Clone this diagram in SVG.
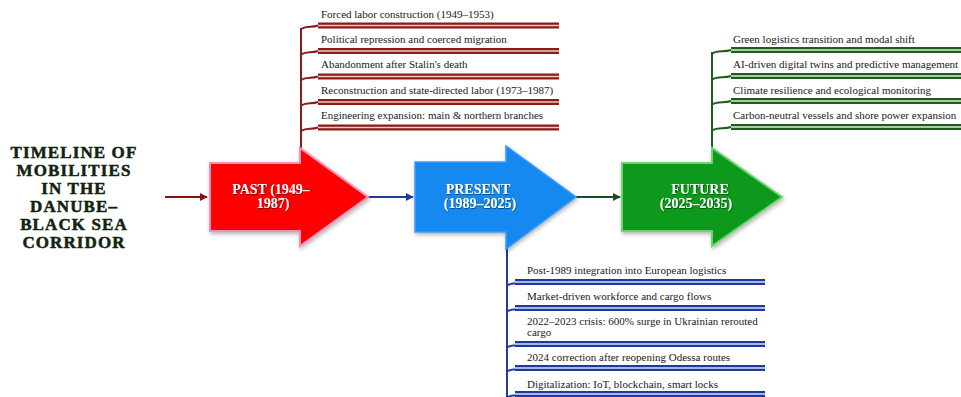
<svg xmlns="http://www.w3.org/2000/svg" width="961" height="397" viewBox="0 0 961 397">
<defs>
<style>
.title{font-family:"Liberation Serif",Tinos,"Times New Roman",Times,"DejaVu Serif",serif;font-weight:bold;font-size:17px;letter-spacing:1.1px;fill:#10240f;stroke:#10240f;stroke-width:0.5;text-anchor:middle}
.lbl{font-family:"Liberation Serif",Tinos,"Times New Roman",Times,"DejaVu Serif",serif;font-weight:bold;font-size:14px;fill:#ffffff;text-anchor:middle}
.it{font-family:"Liberation Serif",Tinos,"Times New Roman",Times,"DejaVu Serif",serif;font-size:11px;fill:#1a1a1a}
.pastc{stroke:#8b1a1a;fill:none;stroke-width:2}
.presc{stroke:#1f3a9a;fill:none;stroke-width:2}
.futc{stroke:#1d5c1d;fill:none;stroke-width:2}
.bandPo{stroke:#8b1a1a;stroke-width:6}
.bandPi{stroke:#f2c8b8;stroke-width:1.6}
.bandRo{stroke:#1f3a9a;stroke-width:6}
.bandRi{stroke:#d2e2ff;stroke-width:1.6}
.bandFo{stroke:#1d5c1d;stroke-width:6}
.bandFi{stroke:#d6f0d6;stroke-width:1.6}
</style>
<filter id="sh" x="-10%" y="-10%" width="120%" height="125%">
<feDropShadow dx="1" dy="2" stdDeviation="2" flood-color="#000" flood-opacity="0.3"/>
</filter>
<filter id="ts" x="-10%" y="-20%" width="120%" height="140%">
<feDropShadow dx="0.5" dy="0.8" stdDeviation="0.6" flood-color="#000" flood-opacity="0.6"/>
</filter>
<marker id="mRed" viewBox="0 0 10 10" refX="9" refY="5" markerWidth="4" markerHeight="4" orient="auto"><path d="M0,0 L10,5 L0,10 Z" fill="#8b1010"/></marker>
<marker id="mBlue" viewBox="0 0 10 10" refX="9" refY="5" markerWidth="4" markerHeight="4" orient="auto"><path d="M0,0 L10,5 L0,10 Z" fill="#1f3a9a"/></marker>
<marker id="mGreen" viewBox="0 0 10 10" refX="9" refY="5" markerWidth="4" markerHeight="4" orient="auto"><path d="M0,0 L10,5 L0,10 Z" fill="#1d4d1d"/></marker>
</defs>
<rect width="961" height="397" fill="#ffffff"/>

<g id="title">
<text class="title" x="74" y="158">TIMELINE OF</text>
<text class="title" x="74" y="176">MOBILITIES</text>
<text class="title" x="74" y="194">IN THE</text>
<text class="title" x="74" y="212">DANUBE–</text>
<text class="title" x="74" y="230">BLACK SEA</text>
<text class="title" x="74" y="248">CORRIDOR</text>
</g>

<g id="connectors">
<line x1="165" y1="197" x2="207" y2="197" stroke="#8b1010" stroke-width="2" marker-end="url(#mRed)"/>
<line x1="368" y1="197" x2="413" y2="197" stroke="#1f3a9a" stroke-width="2" marker-end="url(#mBlue)"/>
<line x1="576" y1="197" x2="620" y2="197" stroke="#1d4d1d" stroke-width="2" marker-end="url(#mGreen)"/>
<line class="pastc" x1="301" y1="28" x2="301" y2="149"/>
<line class="futc" x1="712" y1="52" x2="712" y2="149"/>
<line class="presc" x1="507" y1="248" x2="507" y2="397"/>
</g>

<g id="past" filter="url(#sh)">
<path d="M210,163 L300,163 L300,148 L368,197 L300,246 L300,231 L210,231 Z" fill="#ff0000" stroke="#eb92bb" stroke-width="2"/>
</g>
<g id="past-label" filter="url(#ts)">
<text class="lbl" x="271" y="194">PAST (1949–</text>
<text class="lbl" x="273" y="208">1987)</text>
</g>

<g id="present" filter="url(#sh)">
<path d="M415,162 L506,162 L506,146 L576,197 L506,249 L506,232 L415,232 Z" fill="#1589f0" stroke="#3c9af2" stroke-width="1.5"/>
</g>
<g id="present-label" filter="url(#ts)">
<text class="lbl" x="478" y="194">PRESENT</text>
<text class="lbl" x="480" y="208">(1989–2025)</text>
</g>

<g id="future" filter="url(#sh)">
<path d="M622,163 L712,163 L712,148 L782,197 L712,246 L712,231 L622,231 Z" fill="#0b9a1e" stroke="#6fd26f" stroke-width="2"/>
</g>
<g id="future-label" filter="url(#ts)">
<text class="lbl" x="700" y="194">FUTURE</text>
<text class="lbl" x="696" y="208">(2025–2035)</text>
</g>

<g id="past-items">
<g id="past-1"><path class="pastc" d="M301,29 C307,25 311,28 318,25.5"/><line class="bandPo" x1="318" y1="25.5" x2="559" y2="25.5"/><line class="bandPi" x1="318" y1="25.5" x2="559" y2="25.5"/><text class="it" x="321" y="18">Forced labor construction (1949–1953)</text></g>
<g id="past-2"><path class="pastc" d="M301,54.5 C307,50.5 311,53.5 318,51"/><line class="bandPo" x1="318" y1="51" x2="559" y2="51"/><line class="bandPi" x1="318" y1="51" x2="559" y2="51"/><text class="it" x="321" y="43">Political repression and coerced migration</text></g>
<g id="past-3"><path class="pastc" d="M301,80 C307,76 311,79 318,76.5"/><line class="bandPo" x1="318" y1="76.5" x2="559" y2="76.5"/><line class="bandPi" x1="318" y1="76.5" x2="559" y2="76.5"/><text class="it" x="321" y="68">Abandonment after Stalin's death</text></g>
<g id="past-4"><path class="pastc" d="M301,105.5 C307,101.5 311,104.5 318,102"/><line class="bandPo" x1="318" y1="102" x2="559" y2="102"/><line class="bandPi" x1="318" y1="102" x2="559" y2="102"/><text class="it" x="321" y="94">Reconstruction and state-directed labor (1973–1987)</text></g>
<g id="past-5"><path class="pastc" d="M301,131 C307,127 311,130 318,127.5"/><line class="bandPo" x1="318" y1="127.5" x2="559" y2="127.5"/><line class="bandPi" x1="318" y1="127.5" x2="559" y2="127.5"/><text class="it" x="321" y="119">Engineering expansion: main &amp; northern branches</text></g>
</g>

<g id="future-items">
<g id="future-1"><path class="futc" d="M712,53.5 C718,49.5 724,52.5 731,50"/><line class="bandFo" x1="731" y1="50" x2="961" y2="50"/><line class="bandFi" x1="731" y1="50" x2="961" y2="50"/><text class="it" x="733" y="43">Green logistics transition and modal shift</text></g>
<g id="future-2"><path class="futc" d="M712,79.5 C718,75.5 724,78.5 731,76"/><line class="bandFo" x1="731" y1="76" x2="961" y2="76"/><line class="bandFi" x1="731" y1="76" x2="961" y2="76"/><text class="it" x="733" y="68">AI-driven digital twins and predictive management</text></g>
<g id="future-3"><path class="futc" d="M712,104.5 C718,100.5 724,103.5 731,101"/><line class="bandFo" x1="731" y1="101" x2="961" y2="101"/><line class="bandFi" x1="731" y1="101" x2="961" y2="101"/><text class="it" x="733" y="94">Climate resilience and ecological monitoring</text></g>
<g id="future-4"><path class="futc" d="M712,130.5 C718,126.5 724,129.5 731,127"/><line class="bandFo" x1="731" y1="127" x2="961" y2="127"/><line class="bandFi" x1="731" y1="127" x2="961" y2="127"/><text class="it" x="733" y="119">Carbon-neutral vessels and shore power expansion</text></g>
</g>

<g id="present-items">
<g id="present-1"><path class="presc" d="M507,285.5 C513,281.5 517,284.5 523,282"/><line class="bandRo" x1="515" y1="282" x2="765" y2="282"/><line class="bandRi" x1="515" y1="282" x2="765" y2="282"/><text class="it" x="527" y="274">Post-1989 integration into European logistics</text></g>
<g id="present-2"><path class="presc" d="M507,311.5 C513,307.5 517,310.5 523,308"/><line class="bandRo" x1="515" y1="308" x2="765" y2="308"/><line class="bandRi" x1="515" y1="308" x2="765" y2="308"/><text class="it" x="527" y="300">Market-driven workforce and cargo flows</text></g>
<g id="present-3"><path class="presc" d="M507,347.5 C513,343.5 517,346.5 523,344"/><line class="bandRo" x1="515" y1="344" x2="765" y2="344"/><line class="bandRi" x1="515" y1="344" x2="765" y2="344"/><text class="it" x="527" y="325">2022–2023 crisis: 600% surge in Ukrainian rerouted</text><text class="it" x="527" y="336">cargo</text></g>
<g id="present-4"><path class="presc" d="M507,371.5 C513,367.5 517,370.5 523,368"/><line class="bandRo" x1="515" y1="368" x2="765" y2="368"/><line class="bandRi" x1="515" y1="368" x2="765" y2="368"/><text class="it" x="527" y="361">2024 correction after reopening Odessa routes</text></g>
<g id="present-5"><path class="presc" d="M507,397.5 C513,393.5 517,396.5 523,394"/><line class="bandRo" x1="515" y1="394" x2="765" y2="394"/><line class="bandRi" x1="515" y1="394" x2="765" y2="394"/><text class="it" x="527" y="388">Digitalization: IoT, blockchain, smart locks</text></g>
</g>
</svg>
